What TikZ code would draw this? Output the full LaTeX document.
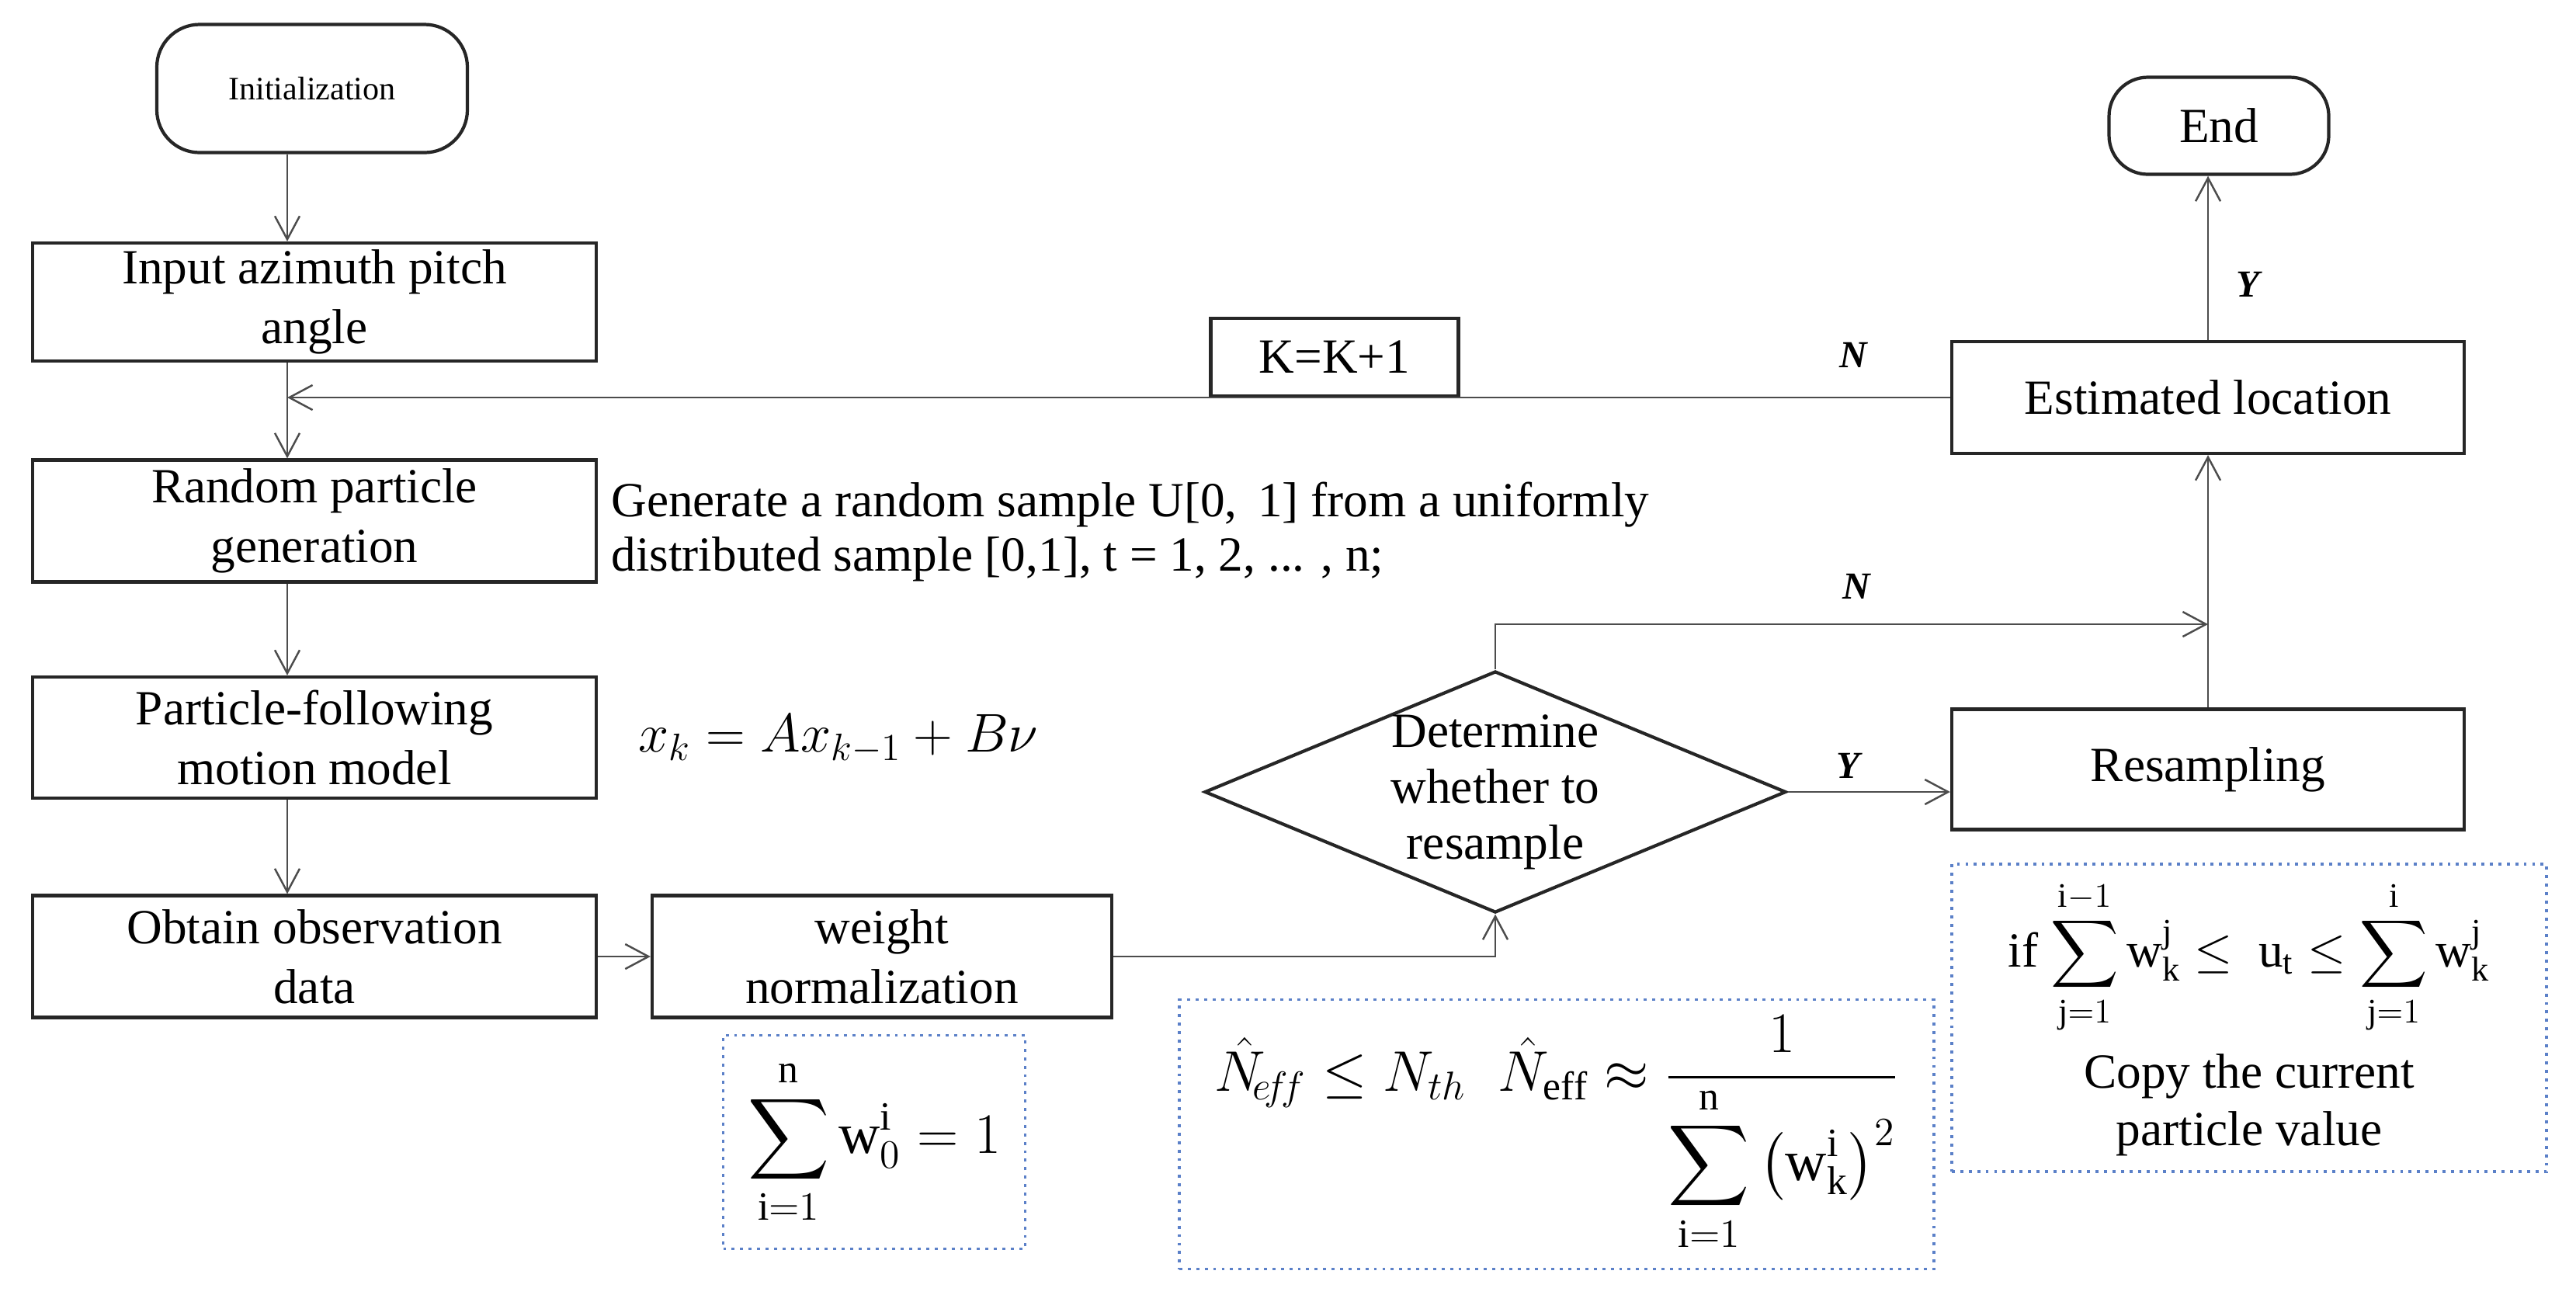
\RequirePackage{fix-cm}
\documentclass[tikz,border=0pt]{standalone}
\usepackage{fontspec}
\setmainfont{Liberation Serif}
\usepackage{amsmath}
\usetikzlibrary{shapes.geometric,arrows.meta,calc}
\definecolor{dotblue}{HTML}{5B80C8}
\tikzset{
	box/.style={draw=black!85, line width=1.2pt, rectangle, align=center, inner sep=1pt, font=\fontsize{18}{22}\selectfont},
	terminal/.style={draw=black!85, line width=1.2pt, rounded corners=0.55cm, align=center},
	decision/.style={draw=black!85, line width=1.2pt, diamond, inner sep=0pt},
	flow/.style={draw=black!70, line width=0.7pt, -{Straight Barb[length=3mm,width=3.2mm]}},
	dotbox/.style={draw=dotblue, dotted, line width=1.1pt, align=center, inner sep=0pt},
	yn/.style={font=\fontsize{14}{16}\selectfont\bfseries\itshape},
	note/.style={font=\fontsize{18}{20}\selectfont, align=left}
}
\begin{document}
\begin{tikzpicture}
	\useasboundingbox (0,0) rectangle (33.18,-16.76);
	\coordinate (spine) at (3.70,0);
	% left column
	\node[terminal, minimum width=4.0cm, minimum height=1.65cm, font=\fontsize{12}{14}\selectfont] (init) at (4.02,-1.14) {Initialization};
	\node[box, minimum width=7.26cm, minimum height=1.52cm] (input) at (4.05,-3.89) {Input azimuth pitch\\angle};
	\node[box, minimum width=7.26cm, minimum height=1.57cm] (random) at (4.05,-6.71) {Random particle\\generation};
	\node[box, minimum width=7.26cm, minimum height=1.56cm] (motion) at (4.05,-9.50) {Particle-following\\motion model};
	\node[box, minimum width=7.26cm, minimum height=1.57cm] (observe) at (4.05,-12.32) {Obtain observation\\data};
	\node[box, minimum width=5.92cm, minimum height=1.57cm] (weight) at (11.36,-12.32) {weight\\normalization};
	% decision and right column
	\node[decision, minimum width=7.49cm, minimum height=3.11cm] (dia) at (19.26,-10.20) {};
	\node[font=\fontsize{18}{20.5}\selectfont, align=center] (diatext) at (dia.center) {Determine\\whether to\\resample};
	\node[box, minimum width=6.6cm, minimum height=1.55cm] (resample) at (28.44,-9.91) {Resampling};
	\node[box, minimum width=6.6cm, minimum height=1.44cm] (estimate) at (28.44,-5.12) {Estimated location};
	\node[terminal, minimum width=2.83cm, minimum height=1.25cm, rounded corners=0.5cm, font=\fontsize{18}{22}\selectfont] (end) at (28.58,-1.62) {End};
	\node[box, anchor=south, minimum width=3.19cm, minimum height=1.0cm, fill=white] (kk) at (17.19,-5.12) {K=K+1};
	\coordinate (join) at (28.44,-8.04);
	% connectors
	\draw[flow] (init.south -| spine) -- (input.north -| spine);
	\draw[flow] (input.south -| spine) -- (random.north -| spine);
	\draw[flow] (random.south -| spine) -- (motion.north -| spine);
	\draw[flow] (motion.south -| spine) -- (observe.north -| spine);
	\draw[flow] (observe) -- (weight);
	\draw[flow] (weight.east) -| (dia.south);
	\draw[flow] (dia.east) -- (dia.east -| resample.west);
	\draw[flow] (dia.north) |- (join);
	\draw[flow] (resample) -- (estimate);
	\draw[flow] (estimate.north) -- (estimate.north |- end.south);
	\draw[flow] (estimate.west) -- (estimate.west -| spine);
	% branch labels
	\node[yn] (nloop) at (23.87,-4.57) {N};
	\node[yn] (yend) at (28.95,-3.66) {Y};
	\node[yn] (nskip) at (23.91,-7.55) {N};
	\node[yn] (yres) at (23.80,-9.86) {Y};
	% side notes
	\node[note, anchor=west] (gen) at (7.75,-6.85) {Generate a random sample U[0,\, 1] from a uniformly\\distributed sample [0,1], t = 1, 2, ... , n;};
	\node[anchor=west, font=\fontsize{20}{22}\selectfont] (model) at (8.10,-9.52) {$x_k = Ax_{k-1} + B\nu$};
	% formula boxes
	\node[dotbox, minimum width=3.89cm, minimum height=2.75cm, font=\fontsize{21}{25}\selectfont] (sumw) at (11.26,-14.71)
		{$\displaystyle\sum_{\mathrm{i}=1}^{\mathrm{n}} \mathrm{w}_{0}^{\mathrm{i}} = 1$};
	\node[dotbox, minimum width=9.72cm, minimum height=3.47cm, font=\fontsize{21}{25}\selectfont] (neff) at (20.05,-14.61)
		{$\hat{N}_{\!e\!f\!f} \le N_{th}\;\; \hat{N}_{\mathrm{eff}} \approx \dfrac{1}{\displaystyle\sum_{\mathrm{i}=1}^{\mathrm{n}}\left(\mathrm{w}_{\mathrm{k}}^{\mathrm{i}}\right)^{2}}$};
	\node[dotbox, minimum width=7.66cm, minimum height=3.96cm, font=\fontsize{18}{21}\selectfont] (copy) at (28.97,-13.11)
		{if $\displaystyle\sum_{\mathrm{j}=1}^{\mathrm{i}-1}\mathrm{w}_{\mathrm{k}}^{\mathrm{j}} \le\ \mathrm{u}_{\mathrm{t}} \le \sum_{\mathrm{j}=1}^{\mathrm{i}}\mathrm{w}_{\mathrm{k}}^{\mathrm{j}}$\\[6pt] Copy the current\\particle value};
\end{tikzpicture}
\end{document}
